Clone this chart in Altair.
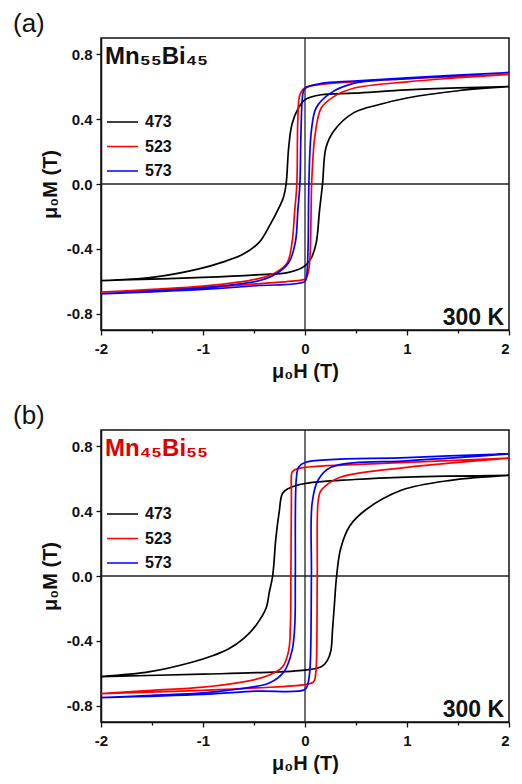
import altair as alt
import pandas as pd

series = ["473", "523", "573"]
colors = ["#000000", "#ff0000", "#0000ff"]

# ---------- panel (a): Mn55Bi45 ----------
# each loop: descending branch (+2 -> -2) followed by ascending branch (-2 -> +2)
a473_down_H = [2.0, 1.5, 1.0, 0.48, 0.16, 0.0, -0.063, -0.127, -0.16, -0.185, -0.21, -0.25, -0.35, -0.45, -0.6, -0.8, -1.05, -1.5, -2.0]
a473_down_M = [0.600, 0.592, 0.580, 0.560, 0.550, 0.520, 0.470, 0.370, 0.225, 0.000, -0.08, -0.14, -0.26, -0.36, -0.43, -0.48, -0.525, -0.576, -0.596]
a473_up_H = [-2.0, -1.5, -1.0, -0.48, -0.16, 0.0, 0.063, 0.11, 0.143, 0.172, 0.206, 0.286, 0.48, 0.73, 1.0, 1.5, 2.0]
a473_up_M = [-0.596, -0.586, -0.576, -0.560, -0.545, -0.505, -0.454, -0.363, -0.16, 0.0, 0.225, 0.33, 0.44, 0.49, 0.53, 0.575, 0.600]

a523_down_H = [2.0, 1.0, 0.48, 0.16, 0.0, -0.05, -0.07, -0.08, -0.10, -0.127, -0.174, -0.286, -0.476, -1.0, -1.5, -2.0]
a523_down_M = [0.675, 0.650, 0.630, 0.614, 0.594, 0.55, 0.40, 0.0, -0.16, -0.36, -0.485, -0.545, -0.586, -0.630, -0.650, -0.667]
a523_up_H = [-2.0, -1.5, -1.0, -0.476, -0.16, 0.0, 0.03, 0.048, 0.065, 0.08, 0.095, 0.16, 0.286, 0.476, 1.0, 1.5, 2.0]
a523_up_M = [-0.667, -0.655, -0.640, -0.616, -0.600, -0.586, -0.55, -0.46, 0.0, 0.18, 0.286, 0.47, 0.54, 0.59, 0.63, 0.655, 0.675]

a573_down_H = [2.0, 1.0, 0.476, 0.16, 0.0, -0.02, -0.04, -0.05, -0.07, -0.095, -0.16, -0.317, -0.476, -1.0, -1.5, -2.0]
a573_down_M = [0.687, 0.655, 0.635, 0.620, 0.590, 0.56, 0.30, 0.0, -0.16, -0.36, -0.485, -0.566, -0.600, -0.640, -0.660, -0.677]
a573_up_H = [-2.0, -1.5, -1.0, -0.476, 0.0, 0.016, 0.03, 0.038, 0.063, 0.11, 0.25, 0.476, 1.0, 1.5, 2.0]
a573_up_M = [-0.677, -0.665, -0.650, -0.627, -0.600, -0.566, -0.40, 0.0, 0.33, 0.47, 0.56, 0.62, 0.65, 0.67, 0.687]

# ---------- panel (b): Mn45Bi55 ----------
b473_down_H = [2.0, 1.0, 0.48, 0.0, -0.16, -0.22, -0.254, -0.286, -0.317, -0.35, -0.38, -0.476, -0.6, -0.75, -0.9, -1.1, -1.52, -2.0]
b473_down_M = [0.62, 0.61, 0.595, 0.57, 0.54, 0.51, 0.39, 0.23, 0.0, -0.10, -0.196, -0.30, -0.385, -0.45, -0.49, -0.53, -0.59, -0.62]
b473_up_H = [-2.0, -1.0, -0.476, 0.0, 0.16, 0.22, 0.254, 0.27, 0.286, 0.31, 0.35, 0.44, 0.60, 0.95, 1.43, 2.0]
b473_up_M = [-0.62, -0.605, -0.596, -0.58, -0.56, -0.52, -0.46, -0.33, -0.196, 0.0, 0.17, 0.31, 0.41, 0.53, 0.59, 0.62]

b523_down_H = [2.0, 1.0, 0.0, -0.10, -0.127, -0.133, -0.138, -0.143, -0.16, -0.22, -0.35, -0.476, -1.0, -1.5, -2.0]
b523_down_M = [0.727, 0.70, 0.67, 0.655, 0.64, 0.50, 0.0, -0.30, -0.46, -0.56, -0.61, -0.636, -0.685, -0.705, -0.725]
b523_up_H = [-2.0, -1.0, -0.476, 0.0, 0.08, 0.095, 0.11, 0.12, 0.127, 0.15, 0.19, 0.35, 1.0, 1.5, 2.0]
b523_up_M = [-0.725, -0.705, -0.69, -0.67, -0.655, -0.64, -0.56, 0.0, 0.45, 0.52, 0.55, 0.61, 0.67, 0.70, 0.727]

b573_down_H = [2.0, 1.0, 0.0, -0.063, -0.085, -0.095, -0.10, -0.127, -0.206, -0.35, -0.476, -1.0, -1.5, -2.0]
b573_down_M = [0.753, 0.73, 0.70, 0.67, 0.60, 0.0, -0.30, -0.46, -0.59, -0.66, -0.68, -0.72, -0.735, -0.75]
b573_up_H = [-2.0, -1.0, -0.476, 0.0, 0.03, 0.05, 0.063, 0.07, 0.127, 0.254, 1.0, 1.5, 2.0]
b573_up_M = [-0.75, -0.73, -0.71, -0.70, -0.66, -0.56, 0.0, 0.45, 0.59, 0.67, 0.71, 0.73, 0.753]

x_ticks = [-2, -1.5, -1, -0.5, 0, 0.5, 1, 1.5, 2]
y_ticks = [-0.8, -0.6, -0.4, -0.2, 0.0, 0.2, 0.4, 0.6, 0.8]
zero_line = [0]

FONT = "Liberation Sans"
W, H = 408, 292


def loop_frame(loops):
    rows = []
    for s, (dH, dM, uH, uM) in zip(series, loops):
        for i, (h, m) in enumerate(zip(dH + uH, dM + uM)):
            rows.append({"series": s, "H": h, "M": m, "i": i})
    return pd.DataFrame(rows)


def panel(tag, formula, formula_color, loops):
    df = loop_frame(loops)
    xs = alt.Scale(domain=[-2, 2], nice=False, zero=False)
    ys = alt.Scale(domain=[-0.9, 0.9], nice=False, zero=False)
    x_axis = alt.Axis(
        title="μ₀H (T)", values=x_ticks,
        labelExpr="datum.value % 1 == 0 ? replace(format(datum.value, 'd'), '−', '-') : ''",
        tickSize={"condition": {"test": "datum.value % 1 != 0", "value": 3}, "value": 5},
        labelAlign={"condition": {"test": "datum.value == 2", "value": "right"}, "value": "center"},
        labelPadding=6, titlePadding=5, grid=False,
    )
    y_axis = alt.Axis(
        title="μ₀M (T)", values=y_ticks,
        labelExpr="abs(round(datum.value * 10)) % 4 == 0 ? replace(format(datum.value, '.1f'), '−', '-') : ''",
        tickSize={"condition": {"test": "abs(round(datum.value * 10)) % 4 != 0", "value": 3}, "value": 5},
        labelPadding=4, titlePadding=6, grid=False,
    )
    lines = alt.Chart(df).mark_line(strokeWidth=1.7, interpolate="catmull-rom").encode(
        x=alt.X("H:Q", scale=xs, axis=x_axis),
        y=alt.Y("M:Q", scale=ys, axis=y_axis),
        color=alt.Color("series:N", scale=alt.Scale(domain=series, range=colors), legend=None),
        detail="series:N",
        order="i:Q",
    )
    zdf = pd.DataFrame({"z": zero_line})
    hline = alt.Chart(zdf).mark_rule(color="#222", strokeWidth=1.3).encode(y=alt.Y("z:Q", scale=ys))
    vline = alt.Chart(zdf).mark_rule(color="#222", strokeWidth=1.3).encode(x=alt.X("z:Q", scale=xs))

    layers = [hline, vline, lines]
    # legend drawn inside the plot
    for k, (s, c) in enumerate(zip(series, colors)):
        sdf = pd.DataFrame({"s": [s]})
        yy = 84 + 24.5 * k
        layers.append(alt.Chart(sdf).mark_rule(color=c, strokeWidth=1.5).encode(
            x=alt.value(6), x2=alt.value(37), y=alt.value(yy)))
        layers.append(alt.Chart(sdf).mark_text(
            align="left", baseline="middle", font=FONT, fontWeight="bold", fontSize=16, color="#111"
        ).encode(text="s:N", x=alt.value(44), y=alt.value(yy)))

    layers.append(alt.Chart(pd.DataFrame({"t": [formula]})).mark_text(
        align="left", baseline="alphabetic", font=FONT, fontWeight="bold", fontSize=24, color=formula_color
    ).encode(text="t:N", x=alt.value(4), y=alt.value(26)))
    layers.append(alt.Chart(pd.DataFrame({"t": ["300 K"]})).mark_text(
        align="right", baseline="alphabetic", font=FONT, fontWeight="bold", fontSize=23, color="#111"
    ).encode(text="t:N", x=alt.value(W - 5), y=alt.value(H - 5)))
    layers.append(alt.Chart(pd.DataFrame({"t": [tag]})).mark_text(
        align="left", baseline="top", font=FONT, fontSize=26, color="#111"
    ).encode(text="t:N", x=alt.value(-88), y=alt.value(-27)))

    return alt.layer(*layers).properties(width=W, height=H)


pa = panel("(a)", "Mn₅₅Bi₄₅", "#111111", [
    (a473_down_H, a473_down_M, a473_up_H, a473_up_M),
    (a523_down_H, a523_down_M, a523_up_H, a523_up_M),
    (a573_down_H, a573_down_M, a573_up_H, a573_up_M),
])
pb = panel("(b)", "Mn₄₅Bi₅₅", "#dd0000", [
    (b473_down_H, b473_down_M, b473_up_H, b473_up_M),
    (b523_down_H, b523_down_M, b523_up_H, b523_up_M),
    (b573_down_H, b573_down_M, b573_up_H, b573_up_M),
])

chart = alt.vconcat(pa, pb, spacing=20).properties(
    padding={"left": 4, "top": 2, "right": 0, "bottom": 0}, background="white"
).configure_view(stroke="#111", strokeWidth=1.5).configure_axis(
    labelFont=FONT, labelFontWeight="bold", labelFontSize=15, labelColor="#111",
    titleFont=FONT, titleFontWeight="bold", titleFontSize=20, titleColor="#111",
    domainColor="#111", domainWidth=1.5, tickColor="#111", tickWidth=1.3,
)

chart.save("out.html", embed_options={"renderer": "svg", "actions": False})
